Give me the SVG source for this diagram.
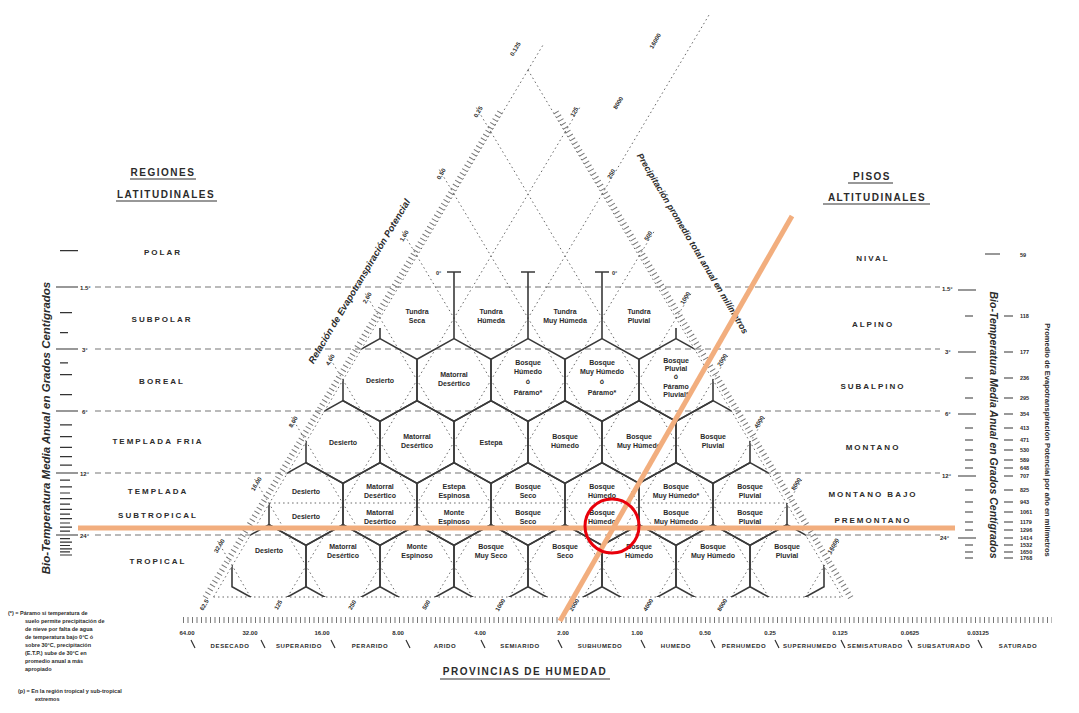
<svg xmlns="http://www.w3.org/2000/svg" width="1079" height="713" viewBox="0 0 1079 713">
<style>
.t{font-family:"Liberation Sans",Arial,sans-serif;font-weight:bold;fill:#2b2b2b}
.hl{font-size:7px;text-anchor:middle}
.rg{font-size:8px;letter-spacing:2px;text-anchor:middle}
.tt{font-size:10px;letter-spacing:1.5px;text-anchor:middle}
.sc{font-size:6px}
.sm{font-size:5.5px}
.it{font-style:italic}
.hex{fill:none;stroke:#3a3a3a;stroke-width:1.6}
.dot{stroke:#666;stroke-width:1;stroke-dasharray:1.5 3;fill:none}
.dash{stroke:#777;stroke-width:1.1;stroke-dasharray:6 4;fill:none}
.ln{stroke:#333;stroke-width:1.2;fill:none}
.hatch{stroke:#777;stroke-width:6;stroke-dasharray:1 3.5;fill:none}
.ul{stroke:#333;stroke-width:1.2}
</style>
<defs>
<polygon id="hx" points="0,-41.33 37,-20.67 37,20.67 0,41.33 -37,20.67 -37,-20.67"/>
<clipPath id="tri"><polygon points="528,70 213.5,597 842.5,597"/></clipPath>
</defs>
<rect width="1079" height="713" fill="#fff"/>

<g id="titles">
<text class="t tt" x="163" y="176">REGIONES</text>
<line class="ul" x1="130" y1="179" x2="196" y2="179"/>
<text class="t tt" x="166" y="198">LATITUDINALES</text>
<line class="ul" x1="116" y1="201" x2="217" y2="201"/>
<text class="t tt" x="872" y="180">PISOS</text>
<line class="ul" x1="848" y1="183" x2="893" y2="183"/>
<text class="t tt" x="877" y="201">ALTITUDINALES</text>
<line class="ul" x1="823" y1="204" x2="930" y2="204"/>
<text class="t tt" x="525" y="675">PROVINCIAS DE HUMEDAD</text>
<line class="ul" x1="440" y1="679" x2="610" y2="679"/>
</g>

<g id="regions">
<text class="t rg" x="163" y="255">POLAR</text>
<text class="t rg" x="162" y="322">SUBPOLAR</text>
<text class="t rg" x="162" y="384">BOREAL</text>
<text class="t rg" x="158" y="444">TEMPLADA   FRIA</text>
<text class="t rg" x="158" y="494">TEMPLADA</text>
<text class="t rg" x="158" y="518">SUBTROPICAL</text>
<text class="t rg" x="158" y="564">TROPICAL</text>
<text class="t rg" x="873" y="261">NIVAL</text>
<text class="t rg" x="873" y="327">ALPINO</text>
<text class="t rg" x="873" y="389">SUBALPINO</text>
<text class="t rg" x="873" y="450">MONTANO</text>
<text class="t rg" x="873" y="497">MONTANO   BAJO</text>
<text class="t rg" x="873" y="523">PREMONTANO</text>
</g>

<g id="temp-lines">
<path class="dash" d="M95 287H940M95 349H940M95 411H940M95 473H940M95 535H940"/>
<path class="dot" d="M269.6 503H786.4"/>
<text class="t sc" x="80" y="290">1.5°</text>
<text class="t sc" x="82" y="352">3°</text>
<text class="t sc" x="82" y="414">6°</text>
<text class="t sc" x="80" y="476">12°</text>
<text class="t sc" x="80" y="538">24°</text>
<text class="t sc" x="942" y="291">1.5°</text>
<text class="t sc" x="945" y="354">3°</text>
<text class="t sc" x="945" y="416">6°</text>
<text class="t sc" x="942" y="478">12°</text>
<text class="t sc" x="940" y="540">24°</text>
</g>

<g id="left-scale">
<path class="ln" d="M56 287h22M56 349h22M56 411h22M56 473h22M56 535h22M60 250.7h18M60 312.7h12M60 332.7h8M60 362.8h8M60 374.7h12M60 394.7h12M60 424.8h12M60 436.7h12M60 447.3h12M60 456.7h12M60 465.2h12M60 480.1h10M60 486.8h12M60 493h10M60 498.7h12M60 504.2h10M60 509.3h12M60 514.1h10M60 518.7h12M60 523h10M60 527.2h12M60 531.2h10M60 538.7h10M60 542.1h12M60 545.5h10M60 548.8h12M60 551.9h10M60 555h12"/>
<text class="t it" font-size="11.5" text-anchor="middle" transform="translate(50,428) rotate(-90)">Bio-Temperatura Media Anual en Grados Centígrados</text>
</g>

<g id="right-scale">
<path class="ln" d="M958 290h18M958 352h18M958 414h18M958 476h18M958 538h18M985 254h15M965 316h8M965 378h8M965 398h8M965 428h8M965 440h8M965 450h8M965 460h8M965 468h8M965 490h8M965 502h8M965 512h8M965 522h8M965 530h8M965 545h8M965 552h8M965 558h8"/>
<path class="ln" d="M1004 316h9M1004 352h9M1004 378h9M1004 398h9M1004 414h9M1004 428h9M1004 440h9M1004 450h9M1004 460h9M1004 468h9M1004 476h9M1004 490h9M1004 502h9M1004 512h9M1004 522h9M1004 530h9M1004 538h9M1004 545h9M1004 552h9M1004 558h9"/>
<text class="t sm" x="1020" y="257" font-size="7">59</text>
<g class="t sm">
<text x="1020" y="318">118</text><text x="1020" y="354">177</text><text x="1020" y="380">236</text><text x="1020" y="400">295</text><text x="1020" y="416">354</text><text x="1020" y="430">413</text><text x="1020" y="442">471</text><text x="1020" y="452">530</text><text x="1020" y="462">589</text><text x="1020" y="470">648</text><text x="1020" y="478">707</text><text x="1020" y="492">825</text><text x="1020" y="504">943</text><text x="1020" y="514">1061</text><text x="1020" y="524">1179</text><text x="1020" y="532">1296</text><text x="1020" y="540">1414</text><text x="1020" y="547">1532</text><text x="1020" y="554">1650</text><text x="1020" y="560">1768</text>
</g>
<text class="t it" font-size="10.5" text-anchor="middle" transform="translate(990,425) rotate(90)">Bio-Temperatura Media Anual en Grados Centígrados</text>
<text class="t" font-size="7.5" text-anchor="middle" transform="translate(1045,440) rotate(90)">Promedio de Evapotranspiración Potencial por año en milímetros</text>
</g>

<g id="guides">
<path class="dot" d="M287.5 597L565 132.2M361.5 597L602 194.2M435.5 597L639 256.2M509.5 597L676.1 318.2M583.5 597L713.1 380.2M657.5 597L750.1 442.2M731.5 597L787.1 504.2M805.5 597L824.1 566.2"/>
<path class="dot" d="M250.5 597L232.2 565.7M324.5 597L269.2 503.7M398.5 597L306.2 441.7M472.5 597L343 380.1M546.5 597L380 318.1M620.5 597L417 256.1M694.5 597L454 194.1M768.5 597L491 132.1"/>
<path class="dot" d="M213.5 597H842.5"/>
<path class="dot" d="M528 70L213.5 597M528 70L842.5 597" stroke="#444" stroke-width="1.3" stroke-dasharray="2 2.5"/>
<path class="hatch" d="M500 112L205 598"/>
<path class="hatch" d="M556 112L851 598"/>
<path class="dot" d="M528 70L543 45M565 132.2L580 107M602 194.2L709 15M639 256.2L655 230M676.1 318.2L692 292M713.1 380.2L729 354M750.1 442.2L766 416M787.1 504.2L803 478M824.1 566.2L840 540"/>
<path class="dot" d="M491 132.1L476 107M454 194.1L439 169M417 256.1L402 231M380 318.1L365 293M343 380.1L328 355M306.2 441.7L291 416M269.2 503.7L254 478M232.2 565.7L217 540"/>
</g>

<g id="axis-labels" class="t sc" text-anchor="middle">
<text transform="translate(517,50) rotate(-59.2)">0.125</text>
<text transform="translate(480,113) rotate(-59.2)">0.25</text>
<text transform="translate(443,175) rotate(-59.2)">0.50</text>
<text transform="translate(406,237) rotate(-59.2)">1.00</text>
<text transform="translate(369,299) rotate(-59.2)">2.00</text>
<text transform="translate(332,361) rotate(-59.2)">4.00</text>
<text transform="translate(295,423) rotate(-59.2)">8.00</text>
<text transform="translate(258,485) rotate(-59.2)">16.00</text>
<text transform="translate(221,547) rotate(-59.2)">32.00</text>
<text transform="translate(576,113) rotate(-59.2)">125</text>
<text transform="translate(613,175) rotate(-59.2)">250</text>
<text transform="translate(650,237) rotate(-59.2)">500</text>
<text transform="translate(687,299) rotate(-59.2)">1000</text>
<text transform="translate(724,361) rotate(-59.2)">2000</text>
<text transform="translate(761,423) rotate(-59.2)">4000</text>
<text transform="translate(798,485) rotate(-59.2)">8000</text>
<text transform="translate(835,547) rotate(-59.2)">16000</text>
<text transform="translate(657,42) rotate(-59.2)">16000</text>
<text transform="translate(620,104) rotate(-59.2)">8000</text>
<text transform="translate(206,606) rotate(-59.2)">62.5</text>
<text transform="translate(280,606) rotate(-59.2)">125</text>
<text transform="translate(354,606) rotate(-59.2)">250</text>
<text transform="translate(428,606) rotate(-59.2)">500</text>
<text transform="translate(502,606) rotate(-59.2)">1000</text>
<text transform="translate(576,606) rotate(-59.2)">2000</text>
<text transform="translate(650,606) rotate(-59.2)">4000</text>
<text transform="translate(724,606) rotate(-59.2)">8000</text>
<text class="it" font-size="9.5" transform="translate(362,283) rotate(-59.2)">Relación de Evapotranspiración Potencial</text>
<text class="it" font-size="9" transform="translate(690,245) rotate(59.2)">Precipitación promedio total anual en milímetros</text>
</g>

<g id="hexagons" clip-path="url(#tri)">
<g class="hex">
<use href="#hx" x="380" y="380"/><use href="#hx" x="454" y="380"/><use href="#hx" x="528" y="380"/><use href="#hx" x="602" y="380"/><use href="#hx" x="676" y="380"/>
<use href="#hx" x="343" y="442"/><use href="#hx" x="417" y="442"/><use href="#hx" x="491" y="442"/><use href="#hx" x="565" y="442"/><use href="#hx" x="639" y="442"/><use href="#hx" x="713" y="442"/>
<use href="#hx" x="306" y="504"/><use href="#hx" x="380" y="504"/><use href="#hx" x="454" y="504"/><use href="#hx" x="528" y="504"/><use href="#hx" x="602" y="504"/><use href="#hx" x="676" y="504"/><use href="#hx" x="750" y="504"/>
<use href="#hx" x="269" y="566"/><use href="#hx" x="343" y="566"/><use href="#hx" x="417" y="566"/><use href="#hx" x="491" y="566"/><use href="#hx" x="565" y="566"/><use href="#hx" x="639" y="566"/><use href="#hx" x="713" y="566"/><use href="#hx" x="787" y="566"/>
</g>
</g>
<g id="tundra-separators">
<path class="hex" d="M454 272V338.7M528 272V338.7M602 272V338.7M447 272h14M521 272h14M595 272h14M380 328V338.7M676 328V338.7"/>
<text class="t sm" x="436" y="275">0°</text>
<text class="t sm" x="612" y="275">0°</text>
</g>

<g id="zone-labels" class="t hl">
<text x="417" y="314">Tundra<tspan x="417" dy="9">Seca</tspan></text>
<text x="491" y="314">Tundra<tspan x="491" dy="9">Húmeda</tspan></text>
<text x="565" y="314">Tundra<tspan x="565" dy="9">Muy Húmeda</tspan></text>
<text x="639" y="314">Tundra<tspan x="639" dy="9">Pluvial</tspan></text>
<text x="380" y="383">Desierto</text>
<text x="454" y="377">Matorral<tspan x="454" dy="9">Desértico</tspan></text>
<text x="528" y="365">Bosque<tspan x="528" dy="9">Húmedo</tspan><tspan x="528" dy="10">ó</tspan><tspan x="528" dy="11">Páramo*</tspan></text>
<text x="602" y="365">Bosque<tspan x="602" dy="9">Muy Húmedo</tspan><tspan x="602" dy="10">ó</tspan><tspan x="602" dy="11">Páramo*</tspan></text>
<text x="676" y="363">Bosque<tspan x="676" dy="8">Pluvial</tspan><tspan x="676" dy="8">ó</tspan><tspan x="676" dy="10">Páramo</tspan><tspan x="676" dy="8">Pluvial*</tspan></text>
<text x="343" y="445">Desierto</text>
<text x="417" y="439">Matorral<tspan x="417" dy="9">Desértico</tspan></text>
<text x="491" y="445">Estepa</text>
<text x="565" y="439">Bosque<tspan x="565" dy="9">Húmedo</tspan></text>
<text x="639" y="439">Bosque<tspan x="639" dy="9">Muy Húmedo</tspan></text>
<text x="713" y="439">Bosque<tspan x="713" dy="9">Pluvial</tspan></text>
<text x="306" y="494">Desierto</text>
<text x="380" y="489">Matorral<tspan x="380" dy="9">Desértico</tspan></text>
<text x="454" y="489">Estepa<tspan x="454" dy="9">Espinosa</tspan></text>
<text x="528" y="489">Bosque<tspan x="528" dy="9">Seco</tspan></text>
<text x="602" y="489">Bosque<tspan x="602" dy="9">Húmedo</tspan></text>
<text x="676" y="489">Bosque<tspan x="676" dy="9">Muy Húmedo*</tspan></text>
<text x="750" y="489">Bosque<tspan x="750" dy="9">Pluvial</tspan></text>
<text x="306" y="519">Desierto</text>
<text x="380" y="515">Matorral<tspan x="380" dy="9">Desértico</tspan></text>
<text x="454" y="515">Monte<tspan x="454" dy="9">Espinoso</tspan></text>
<text x="528" y="515">Bosque<tspan x="528" dy="9">Seco</tspan></text>
<text x="602" y="515">Bosque<tspan x="602" dy="9">Húmedo</tspan></text>
<text x="676" y="515">Bosque<tspan x="676" dy="9">Muy Húmedo</tspan></text>
<text x="750" y="515">Bosque<tspan x="750" dy="9">Pluvial</tspan></text>
<text x="269" y="553">Desierto</text>
<text x="343" y="549">Matorral<tspan x="343" dy="9">Desértico</tspan></text>
<text x="417" y="549">Monte<tspan x="417" dy="9">Espinoso</tspan></text>
<text x="491" y="549">Bosque<tspan x="491" dy="9">Muy Seco</tspan></text>
<text x="565" y="549">Bosque<tspan x="565" dy="9">Seco</tspan></text>
<text x="639" y="549">Bosque<tspan x="639" dy="9">Húmedo</tspan></text>
<text x="713" y="549">Bosque<tspan x="713" dy="9">Muy Húmedo</tspan></text>
<text x="787" y="549">Bosque<tspan x="787" dy="9">Pluvial</tspan></text>
</g>

<g id="humidity-axis">
<path class="hatch" d="M183 620H1052" stroke-width="5"/>
<g class="t sc" text-anchor="middle">
<text x="187" y="635">64.00</text><text x="250" y="635">32.00</text><text x="322" y="635">16.00</text><text x="398" y="635">8.00</text><text x="480" y="635">4.00</text><text x="563" y="635">2.00</text><text x="637" y="635">1.00</text><text x="705" y="635">0.50</text><text x="770" y="635">0.25</text><text x="840" y="635">0.125</text><text x="910" y="635">0.0625</text><text x="978" y="635">0.03125</text>
</g>
<path class="ln" d="M191 640l4 8M261 640l4 8M331 640l4 8M406 640l4 8M481 640l4 8M558 640l4 8M641 640l4 8M711 640l4 8M775 640l4 8M841 640l4 8M908 640l4 8M978 640l4 8"/>
<g class="t sc" text-anchor="middle" letter-spacing="0.6">
<text x="230" y="648">DESECADO</text><text x="299" y="648">SUPERARIDO</text><text x="370" y="648">PERARIDO</text><text x="445" y="648">ARIDO</text><text x="520" y="648">SEMIARIDO</text><text x="600" y="648">SUBHUMEDO</text><text x="676" y="648">HUMEDO</text><text x="744" y="648">PERHUMEDO</text><text x="810" y="648">SUPERHUMEDO</text><text x="875" y="648">SEMISATURADO</text><text x="944" y="648">SUBSATURADO</text><text x="1018" y="648">SATURADO</text>
</g>
</g>

<g id="footnotes" class="t" font-size="5.5" font-weight="normal">
<text x="8" y="615">(*) = Páramo si temperatura de</text>
<text x="25" y="623">suelo permite precipitación de</text>
<text x="25" y="631">de nieve por falta de agua</text>
<text x="25" y="639">de temperatura bajo 0°C ó</text>
<text x="25" y="647">sobre 30°C, precipitación</text>
<text x="25" y="655">(E.T.P.) sube de 30°C en</text>
<text x="25" y="663">promedio anual a más</text>
<text x="25" y="671">apropiado</text>
<text x="18" y="693">(p) = En la región tropical y sub-tropical</text>
<text x="35" y="701">extremos</text>
</g>

<g id="overlay">
<line x1="78" y1="528" x2="955" y2="528" stroke="#F2AE7E" stroke-width="5"/>
<line x1="792" y1="216" x2="560" y2="621" stroke="#F2AE7E" stroke-width="5"/>
<circle cx="612" cy="526" r="27" fill="none" stroke="#E8000B" stroke-width="3"/>
</g>
</svg>
